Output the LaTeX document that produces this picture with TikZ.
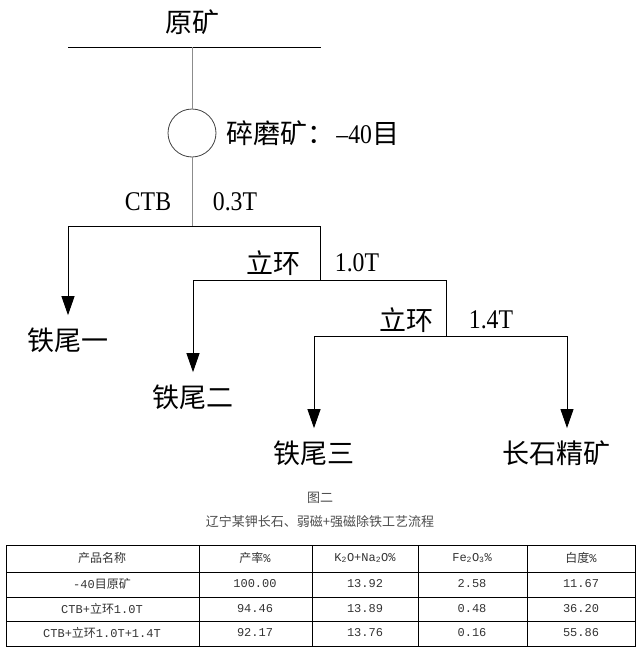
\documentclass[tikz,border=0pt]{standalone}
\usepackage{fontspec}
\setmainfont{Liberation Serif}[FakeStretch=0.88]
\newfontfamily\cjk{Noto Sans CJK SC}
\newfontfamily\tabmono{Liberation Mono}
\newcommand{\zh}[1]{{\cjk #1}}
\usetikzlibrary{arrows.meta}
\definecolor{linegray}{HTML}{8C8C8C}
\definecolor{capgray}{HTML}{4D4D4D}
\definecolor{tabtext}{HTML}{333333}

\begin{document}
\begin{tikzpicture}[x=1pt,y=-1pt,line width=0.9pt,
    lbl/.style={font=\fontsize{27}{30}\selectfont,inner sep=0pt},
    flow/.style={-{Triangle[length=19pt,width=13pt]},shorten >=12pt},
    cell/.style={font=\fontsize{12}{14}\selectfont\tabmono,text=tabtext,inner sep=0pt}]
    \useasboundingbox (0,0) rectangle (640,656);
    % feed and grinding
    \node[lbl] (raw) at (192,22) {\zh{原矿}};
    \coordinate (b1l) at (68,47); \coordinate (b1r) at (321,47);
    \draw (b1l) -- (b1r);
    \node[draw=black!75,line width=0.8pt,circle,minimum size=48pt,inner sep=0pt] (mill) at (192,133) {};
    \node[lbl,anchor=west] (millt) at (226,133) {\zh{碎磨矿：}\hspace{2pt}–40\zh{目}};
    \draw[linegray] (raw |- b1l) -- (mill);
    % CTB 0.3T
    \coordinate (s1l) at (68,226); \coordinate (s1r) at (320,226);
    \node[lbl] (ctb) at (148,202) {CTB};
    \node[lbl] (f03) at (235,202) {0.3T};
    \draw[linegray] (mill) -- (mill |- s1l);
    \draw (s1l) -- (s1r);
    \node[lbl] (t1) at (68,340) {\zh{铁尾一}};
    \draw[flow] (s1l) -- (t1);
    % ring 1.0T
    \coordinate (s2l) at (193,280); \coordinate (s2r) at (446,280);
    \node[lbl] (ring1) at (273,263) {\zh{立环}};
    \node[lbl] (f10) at (357,263) {1.0T};
    \draw (s1r) -- (s1r |- s2l);
    \draw (s2l) -- (s2r);
    \node[lbl] (t2) at (193,397) {\zh{铁尾二}};
    \draw[flow] (s2l) -- (t2);
    % ring 1.4T
    \coordinate (s3l) at (314,336); \coordinate (s3r) at (567,336);
    \node[lbl] (ring2) at (406,320) {\zh{立环}};
    \node[lbl] (f14) at (491,320) {1.4T};
    \draw (s2r) -- (s2r |- s3l);
    \draw (s3l) -- (s3r);
    \node[lbl] (t3) at (314,453) {\zh{铁尾三}};
    \node[lbl] (conc) at (556,453) {\zh{长石精矿}};
    \draw[flow] (s3l) -- (t3);
    \draw[flow] (s3r) -- (s3r |- conc.north);
    % caption
    \node[font=\fontsize{13}{15}\selectfont\cjk,text=capgray] (fig) at (320,498) {图二};
    \node[font=\fontsize{13}{15}\selectfont\cjk,text=capgray] (cap) at (320,522) {辽宁某钾长石、弱磁+强磁除铁工艺流程};
    % table
    \draw[line width=0.8pt] (6,545) rectangle (635,646);
    \foreach \y in {572,597,621} \draw[line width=0.8pt] (6,\y) -- (635,\y);
    \foreach \x in {199,312,418,527} \draw[line width=0.8pt] (\x,545) -- (\x,646);
    \foreach \y/\ca/\cb/\cc/\cd/\ce in {
        558/{\zh{产品名称}}/{\zh{产率}\%}/{K\textsubscript{2}O+Na\textsubscript{2}O\%}/{Fe\textsubscript{2}O\textsubscript{3}\%}/{\zh{白度}\%},
        584/{-40\zh{目原矿}}/100.00/13.92/2.58/11.67,
        609/{CTB+\zh{立环}1.0T}/94.46/13.89/0.48/36.20,
        633/{CTB+\zh{立环}1.0T+1.4T}/92.17/13.76/0.16/55.86}
    {
        \node[cell] (c\y a) at (102,\y) {\ca};
        \node[cell] (c\y b) at (255,\y) {\cb};
        \node[cell] (c\y c) at (365,\y) {\cc};
        \node[cell] (c\y d) at (472,\y) {\cd};
        \node[cell] (c\y e) at (581,\y) {\ce};
    }
\end{tikzpicture}
\end{document}
